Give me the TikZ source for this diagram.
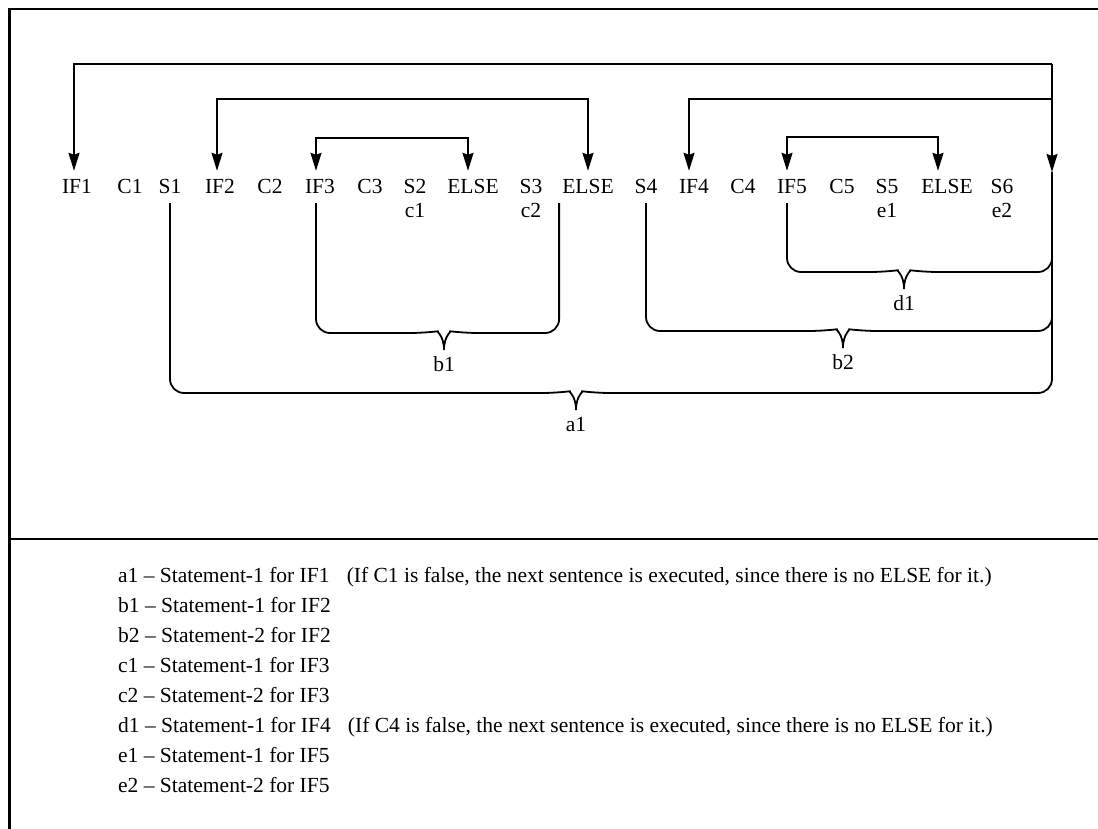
\documentclass[tikz,border=0pt]{standalone}
\usepackage{fontspec}
\setmainfont{Liberation Serif}
\usetikzlibrary{arrows.meta}
\newcommand\stmtbrace[5]{%
  \coordinate (#4t) at (#3);
  \coordinate (#4h) at ([yshift=17pt]#4t);
  \draw[brace line] (#1) [rounded corners=14pt] -- (#1 |- #4h) -- ([xshift=-20pt]#4h) [sharp corners]
    .. controls ([xshift=-8pt,yshift=1.5pt]#4h) and ([yshift=-2pt]#4h) .. (#4t);
  \draw[brace line] (#2) [rounded corners=14pt] -- (#2 |- #4h) -- ([xshift=20pt]#4h) [sharp corners]
    .. controls ([xshift=8pt,yshift=1.5pt]#4h) and ([yshift=-2pt]#4h) .. (#4t);
  \node[brace label] (#4) at ([yshift=-7pt]#4t) {#5};
}

\begin{document}
\begin{tikzpicture}[
  x=1pt,
  y=-1pt,
  frame line/.style={
    line width=2.4pt,
  },
  flow line/.style={
    line width=1.8pt,
  },
  flow/.style={
    flow line,
    -{Stealth[length=18pt,width=11pt,inset=2pt]},
  },
  twoway/.style={
    flow line,
    {Stealth[length=18pt,width=11pt,inset=2pt]}-{Stealth[length=18pt,width=11pt,inset=2pt]},
  },
  brace line/.style={
    line width=1.8pt,
  },
  token/.style={
    anchor=base,
    inner xsep=0pt,
    inner ysep=9pt,
    text height=14pt,
    text depth=0pt,
    font=\fontsize{21.5}{25}\selectfont,
  },
  sub label/.style={
    anchor=base,
    inner sep=0pt,
    font=\fontsize{21.5}{25}\selectfont,
  },
  brace label/.style={
    anchor=north,
    inner sep=0pt,
    text height=14pt,
    text depth=0pt,
    font=\fontsize{21.5}{25}\selectfont,
  },
  key/.style={
    anchor=base west,
    inner sep=0pt,
    font=\fontsize{21.5}{26}\selectfont,
  }
]
\useasboundingbox (0,0) rectangle (1098,829);
\draw[frame line] (1098,9) -- (9.5,9) -- (9.5,829);
\draw[frame line] (9.5,539) -- (1098,539);

\foreach \n/\t/\x in {if1/IF1/77, cond1/C1/130, st1/S1/170, if2/IF2/220, cond2/C2/270,
  if3/IF3/320, cond3/C3/370, st2/S2/415, elseC/ELSE/473, st3/S3/531, elseB/ELSE/588,
  st4/S4/646, if4/IF4/694, cond4/C4/743, if5/IF5/792, cond5/C5/842, st5/S5/887,
  elseE/ELSE/947, st6/S6/1002}
{
  \node[token] (\n) at (\x,194) {\t};
}
\foreach \n/\s/\t in {subc1/st2/c1, subc2/st3/c2, sube1/st5/e1, sube2/st6/e2}
  \node[sub label] (\n) at ([yshift=-24pt]\s.base) {\t};

\coordinate (nxt) at (1052,172);
\coordinate (busA) at ([yshift=108pt]nxt);
\coordinate (busB) at ([yshift=73pt]nxt);
\draw[flow] (busA) -| ([xshift=-3pt]if1.north);
\draw[flow] (busA) -- (nxt);
\draw[flow] (busB) -| ([xshift=-5pt]if4.north);
\draw[twoway] ([xshift=-3pt]if2.north) -- ++(0,-72) -| (elseB.north);
\draw[twoway] ([xshift=-4pt]if3.north) -- ++(0,-33) -| ([xshift=-5pt]elseC.north);
\draw[twoway] ([xshift=-5pt]if5.north) -- ++(0,-34) -| ([xshift=-9pt]elseE.north);

\coordinate (st1b) at (st1.south);
\coordinate (if3b) at ([xshift=-4pt]if3.south);
\coordinate (elseBb) at ([xshift=-3pt]elseB.south west);
\coordinate (st4b) at (st4.south);
\coordinate (if5b) at ([xshift=-5pt]if5.south);
\stmtbrace{st1b}{nxt}{576,410}{a1}{a1}
\stmtbrace{if3b}{elseBb}{444,350}{b1}{b1}
\stmtbrace{st4b}{nxt}{843,348}{b2}{b2}
\stmtbrace{if5b}{nxt}{904,289}{d1}{d1}

\foreach[count=\k] \t in {
  {a1 -- Statement-1 for IF1\hspace{0.8em}(If C1 is false, the next sentence is executed, since there is no ELSE for it.)},
  {b1 -- Statement-1 for IF2},
  {b2 -- Statement-2 for IF2},
  {c1 -- Statement-1 for IF3},
  {c2 -- Statement-2 for IF3},
  {d1 -- Statement-1 for IF4\hspace{0.8em}(If C4 is false, the next sentence is executed, since there is no ELSE for it.)},
  {e1 -- Statement-1 for IF5},
  {e2 -- Statement-2 for IF5}}
{
  \node[key] (key\k) at (118,{551.9+30.1*\k}) {\t};
}
\end{tikzpicture}
\end{document}
